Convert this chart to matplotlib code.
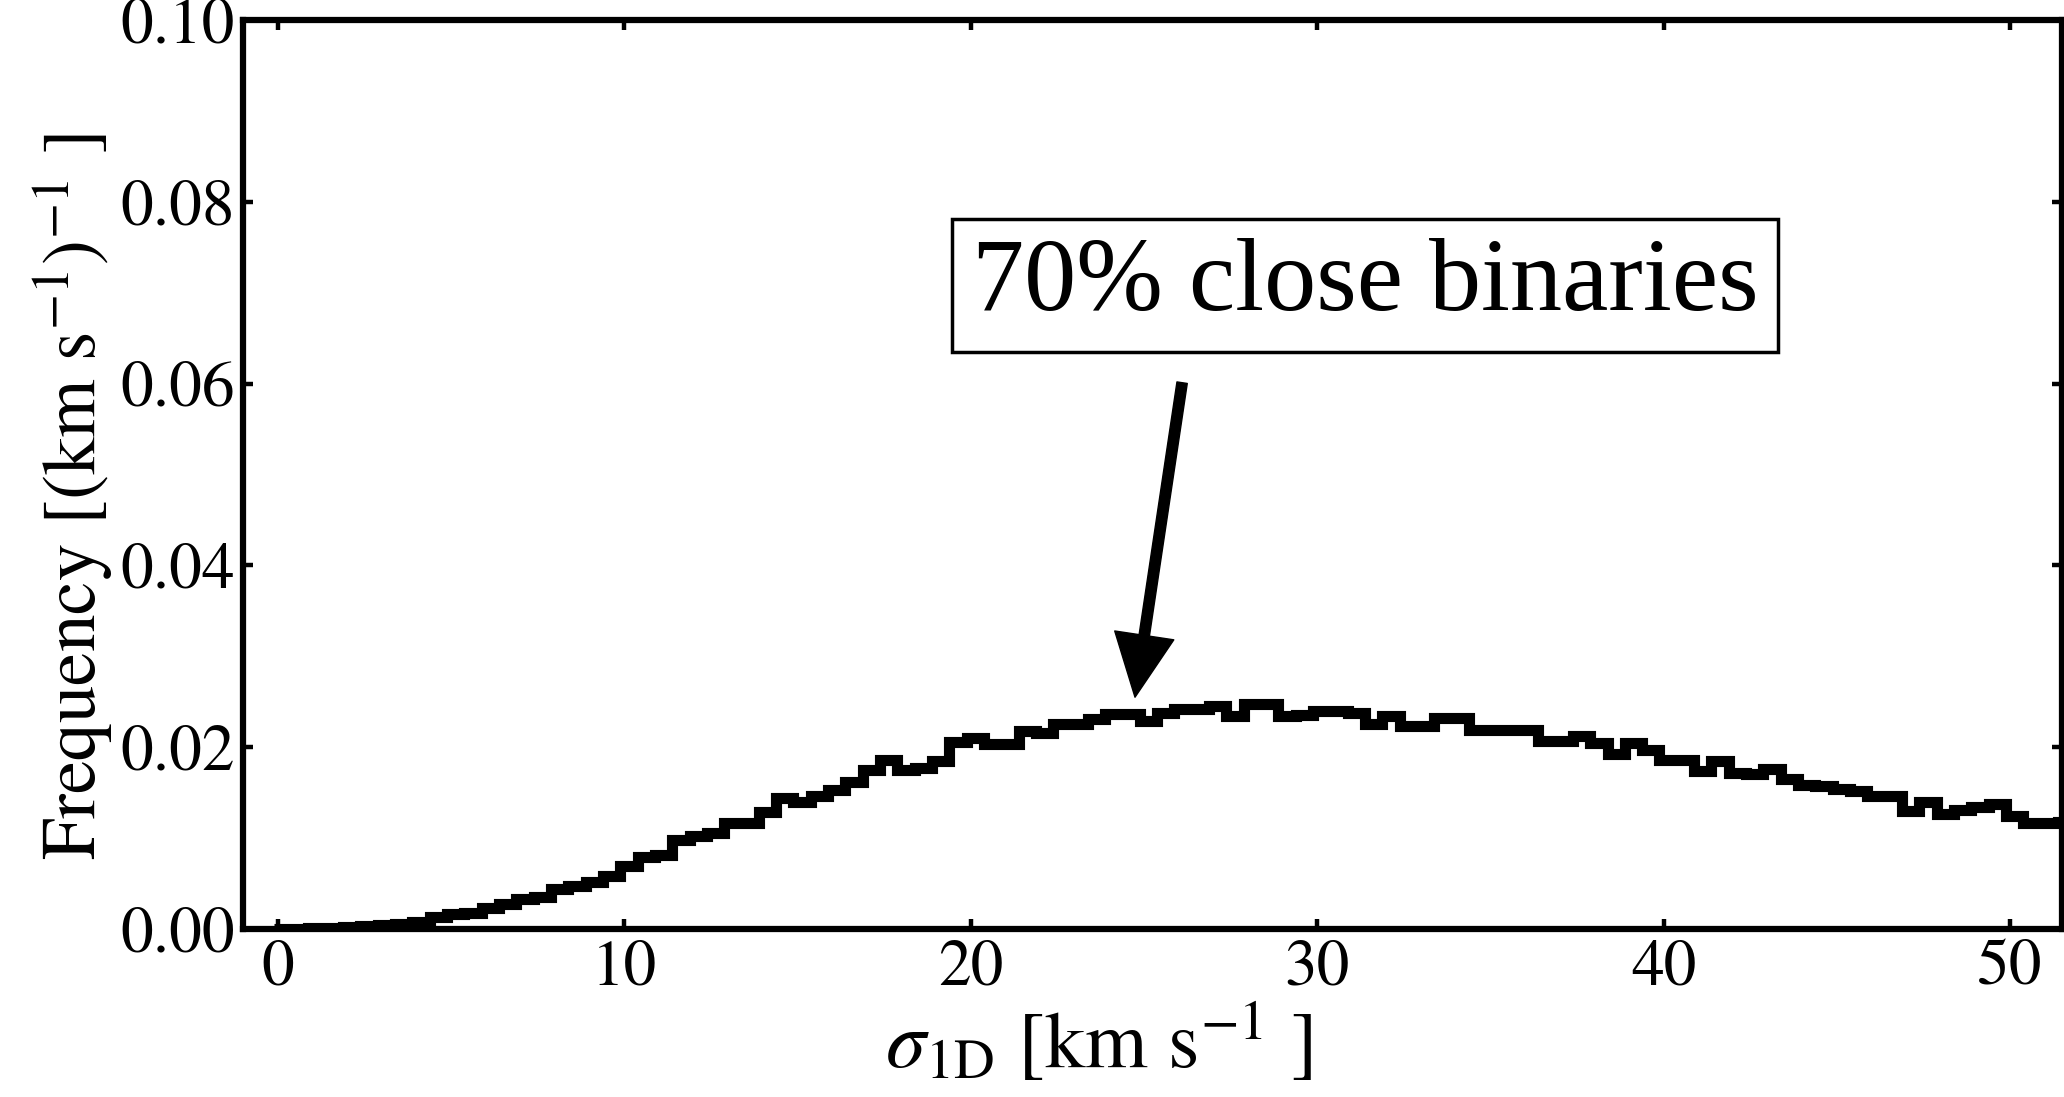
import numpy as np
import matplotlib
matplotlib.use("Agg")
import matplotlib.pyplot as plt

# ---- data ----
bin_width = 0.5
first_edge = -0.12
freq = [
    0.0000, 0.0000, 0.0001, 0.0001, 0.0002, 0.0003, 0.0004, 0.0006, 0.0008, 0.0013,
    0.0017, 0.0018, 0.0023, 0.0028, 0.0033, 0.0035, 0.0044, 0.0047, 0.0052, 0.0058,
    0.0069, 0.0079, 0.0081, 0.0098, 0.0102, 0.0106, 0.0117, 0.0117, 0.0129, 0.0144,
    0.0140, 0.0146, 0.0153, 0.0162, 0.0175, 0.0186, 0.0175, 0.0177, 0.0185, 0.0206,
    0.0210, 0.0203, 0.0204, 0.0218, 0.0216, 0.0225, 0.0225, 0.0231, 0.0236, 0.0236,
    0.0229, 0.0238, 0.0242, 0.0242, 0.0245, 0.0234, 0.0247, 0.0247, 0.0234, 0.0235,
    0.0240, 0.0240, 0.0238, 0.0225, 0.0234, 0.0223, 0.0223, 0.0232, 0.0232, 0.0219,
    0.0219, 0.0219, 0.0219, 0.0207, 0.0207, 0.0212, 0.0205, 0.0192, 0.0205, 0.0197,
    0.0186, 0.0186, 0.0174, 0.0185, 0.0172, 0.0170, 0.0176, 0.0165, 0.0158, 0.0157,
    0.0154, 0.0152, 0.0146, 0.0146, 0.0130, 0.0140, 0.0126, 0.0131, 0.0134, 0.0137,
    0.0124, 0.0117, 0.0117, 0.0118,
]
x_ticks = [0, 10, 20, 30, 40, 50]
y_ticks = [0.00, 0.02, 0.04, 0.06, 0.08, 0.10]
annot_text = "70% close binaries"
annot_xy = (24.74, 0.0255)       # arrow tip
annot_tail = (26.1, 0.0601)      # arrow tail
annot_box_pos = (31.38, 0.0708)  # text box centre

edges = first_edge + bin_width * np.arange(len(freq) + 1)

plt.rcParams['font.family'] = ['STIXGeneral', 'DejaVu Serif']
plt.rcParams['mathtext.fontset'] = 'stix'

fig = plt.figure(figsize=(20.64, 10.97), dpi=100)
ax = fig.add_axes([243/2064, 1 - 929/1097, (2062 - 243)/2064, (929 - 20)/1097])

st = ax.stairs(freq, edges, color='black', linewidth=8, baseline=0)
st.set_joinstyle('miter')

ax.set_xlim(-1.01, 51.5)
ax.set_ylim(0, 0.10)
ax.set_xticks(x_ticks)
ax.set_yticks(y_ticks)
ax.set_yticklabels([f"{v:.2f}" for v in y_ticks])

for sp in ax.spines.values():
    sp.set_linewidth(4.5)
ax.tick_params(which='major', direction='in', length=7.5, width=3.2,
               top=True, right=True, labelsize=47, pad=8)
ax.tick_params(axis='y', pad=6)

ax.set_xlabel(r"$\sigma_{\rm 1D}$ [km s$^{-1}$ ]", fontsize=58)
ax.set_ylabel(r"Frequency [(km s$^{-1}$)$^{-1}$ ]", fontsize=54)
ax.xaxis.set_label_coords(0.4706, -0.080)
ax.yaxis.set_label_coords(-0.070, 0.475)

ax.text(annot_box_pos[0], annot_box_pos[1], annot_text, fontsize=75,
        family='Liberation Serif', ha='center', va='center',
        bbox=dict(boxstyle='square,pad=0.19', fc='white', ec='black', lw=2.5))
ax.annotate('', xy=annot_xy, xytext=annot_tail,
            arrowprops=dict(facecolor='black', edgecolor='black', width=7.5,
                            headwidth=43, headlength=45, shrink=0))

fig.savefig('out.png', dpi=100)
